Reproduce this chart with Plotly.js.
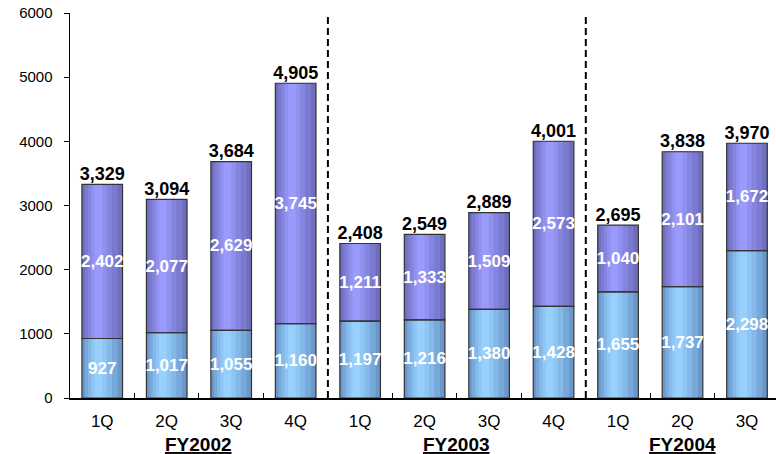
<!DOCTYPE html>
<html>
<head>
<meta charset="utf-8">
<script src="https://cdn.plot.ly/plotly-3.0.1.min.js"></script>
<style>html,body{margin:0;padding:0;background:#fff;}#chart{width:776px;height:454px;}</style>
</head>
<body>
<div id="chart"></div>
<script>
// ---- data ----
var fiscalYears = ["FY2002","FY2002","FY2002","FY2002","FY2003","FY2003","FY2003","FY2003","FY2004","FY2004","FY2004"];
var quarters    = ["1Q","2Q","3Q","4Q","1Q","2Q","3Q","4Q","1Q","2Q","3Q"];
var bottomVals  = [927,1017,1055,1160,1197,1216,1380,1428,1655,1737,2298];
var topVals     = [2402,2077,2629,3745,1211,1333,1509,2573,1040,2101,1672];
var fyLabels    = ["FY2002","FY2003","FY2004"];
var yTicks      = [0,1000,2000,3000,4000,5000,6000];

// ---- derived ----
var cats = fiscalYears.map(function(f,i){ return f + " " + quarters[i]; });
var totals = bottomVals.map(function(v,i){ return v + topVals[i]; });
function fmt(v){ return v.toLocaleString("en-US"); }

var FONT = "Liberation Sans, Arial, sans-serif";
var BW = 0.63;
var layers = [
  {l:-0.315, r:0.315},
  {l:-0.27,  r:0.24},
  {l:-0.22,  r:0.15},
  {l:-0.17,  r:0.07},
  {l:-0.12,  r:0.0}
];
var blueCols   = ["#6b96c8","#77a8da","#83b8e8","#8ec5f4","#97cffd"];
var purpleCols = ["#6e6ebd","#7a7ad0","#8585e0","#9090ef","#9a9afc"];

var traces = [];
function addLayers(y, base, cols){
  layers.forEach(function(L, k){
    var t = {type:"bar", x:cats, y:y, width:L.r-L.l, offset:L.l,
      marker:{color:cols[k], line:{width:0}}, hoverinfo:"skip", showlegend:false};
    if (base) t.base = base;
    traces.push(t);
  });
}
addLayers(bottomVals, null, blueCols);
addLayers(topVals, bottomVals, purpleCols);

// outline + inner labels
traces.push({type:"bar", x:cats, y:bottomVals, width:BW, offset:-BW/2,
  marker:{color:"rgba(0,0,0,0)", line:{color:"#333", width:1.2}},
  text:bottomVals.map(fmt), textposition:"inside", insidetextanchor:"middle",
  constraintext:"none", textangle:0,
  textfont:{family:FONT, size:17, color:"#fff", weight:"bold"},
  hoverinfo:"skip", showlegend:false});
traces.push({type:"bar", x:cats, y:topVals, base:bottomVals, width:BW, offset:-BW/2,
  marker:{color:"rgba(0,0,0,0)", line:{color:"#333", width:1.2}},
  text:topVals.map(fmt), textposition:"inside", insidetextanchor:"middle",
  constraintext:"none", textangle:0,
  textfont:{family:FONT, size:17, color:"#fff", weight:"bold"},
  hoverinfo:"skip", showlegend:false});

// totals
traces.push({type:"scatter", mode:"text", x:cats, y:totals,
  text:totals.map(fmt), textposition:"top center",
  textfont:{family:FONT, size:18, color:"#000", weight:"bold"},
  cliponaxis:false, hoverinfo:"skip", showlegend:false});

// group labels centred on each FY group
var annotations = fyLabels.map(function(fy){
  var idx = [];
  fiscalYears.forEach(function(f,i){ if(f===fy) idx.push(i); });
  var c = (idx[0] + idx[idx.length-1]) / 2;
  return {x:c, y:0, xref:"x", yref:"paper", yanchor:"middle", yshift:-46,
    text:"<b><u>"+fy+"</u></b>",
    showarrow:false, font:{family:FONT, size:19, color:"#000"}};
});

// separators between fiscal years
var shapes = [];
for (var i = 1; i < fiscalYears.length; i++){
  if (fiscalYears[i] !== fiscalYears[i-1]){
    shapes.push({type:"line", xref:"x", yref:"paper", x0:i-0.5, x1:i-0.5, y0:0, y1:1,
      line:{color:"#000", width:2, dash:"7px,4px"}});
  }
}

var layout = {
  width:776, height:454,
  margin:{l:70, r:0, t:13, b:56},
  paper_bgcolor:"#fff", plot_bgcolor:"#fff",
  barmode:"overlay",
  showlegend:false,
  font:{family:FONT, color:"#000"},
  xaxis:{type:"category", range:[-0.5, cats.length-0.55],
    tickvals:cats, ticktext:quarters, tickson:"boundaries",
    ticks:"inside", ticklen:5, tickcolor:"#000", tickwidth:1,
    showline:true, linecolor:"#000", linewidth:1.5,
    showgrid:false, zeroline:false, fixedrange:true,
    tickfont:{family:FONT, size:17, color:"#000"}, ticklabelstandoff:7},
  yaxis:{range:[0,6000], tickvals:yTicks, ticktext:yTicks.map(String),
    ticks:"outside", ticklen:5, tickcolor:"#000", tickwidth:1,
    showline:true, linecolor:"#000", linewidth:1.5,
    showgrid:false, zeroline:false, fixedrange:true,
    tickfont:{family:FONT, size:15, color:"#000"}, ticklabelstandoff:8},
  annotations:annotations,
  shapes:shapes
};

Plotly.newPlot("chart", traces, layout, {staticPlot:true, displayModeBar:false});
</script>
</body>
</html>
